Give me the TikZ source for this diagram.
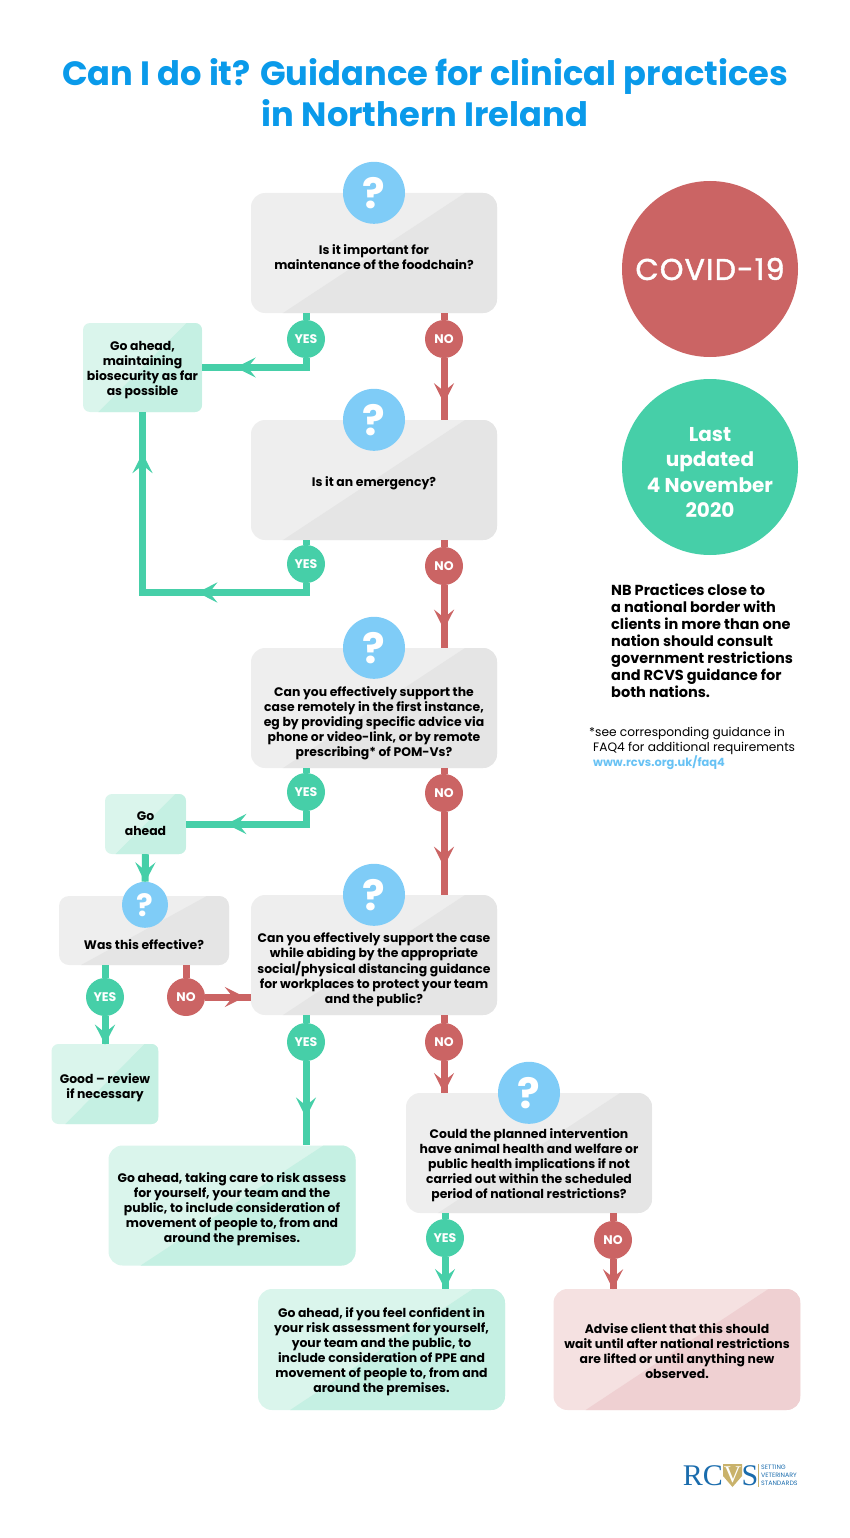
\documentclass[tikz,border=0pt]{standalone}
\usepackage{fontspec}
\setmainfont{Poppins}
\newfontfamily\logofont{Liberation Serif}
\newfontfamily\covidfont[LetterSpace=4,FakeBold=1.5]{Poppins}
\usetikzlibrary{arrows.meta, positioning, calc, decorations.markings}

\definecolor{titleblue}{HTML}{0A9AEA}
\definecolor{markblue}{HTML}{7FCCF7}
\definecolor{yesgreen}{HTML}{46CFA8}
\definecolor{nored}{HTML}{CB6464}
\definecolor{greyA}{HTML}{EEEEEE}
\definecolor{greyB}{HTML}{E5E5E5}
\definecolor{greenA}{HTML}{DAF5EC}
\definecolor{greenB}{HTML}{C5F0E3}
\definecolor{redA}{HTML}{F5E1E1}
\definecolor{redB}{HTML}{EFD0D2}
\definecolor{rcvsblue}{HTML}{1A6CAD}
\definecolor{rcvsgold}{HTML}{C9B26B}

\newcommand{\pushdown}[1]{\rule{0pt}{\dimexpr 9pt+2\dimexpr #1\relax\relax}}
\newcommand{\barbs}{\pgftransformxshift{5pt}\arrow{Stealth[length=20pt,width=20pt,inset=8pt]}}

\tikzstyle{bodytext} = [align=center, text=black, font=\bfseries\fontsize{12.4}{15}\selectfont]
\tikzstyle{panel} = [rectangle, inner sep=0pt, bodytext, path picture={
  \fill [fill=panelB, sharp corners] ($(path picture bounding box.south west)!0.13!(path picture bounding box.south east)$)
    -- ($(path picture bounding box.north east)!0.13!(path picture bounding box.north west)$)
    -- (path picture bounding box.north east) -- (path picture bounding box.south east) -- cycle;}]
\tikzstyle{question} = [panel, fill=greyA, rounded corners=14pt, minimum width=246pt, minimum height=120pt]
\tikzstyle{outcome} = [panel, fill=greenA, rounded corners=14pt, minimum width=247pt, minimum height=120pt]
\tikzstyle{stopbox} = [panel, fill=redA, rounded corners=14pt, minimum width=247pt, minimum height=121pt]
\tikzstyle{smallbox} = [panel, fill=greenA, rounded corners=7pt]
\tikzstyle{qmark} = [circle, fill=markblue, text=white, minimum size=62pt, inner sep=0pt, font=\bfseries\fontsize{42}{42}\selectfont]
\tikzstyle{yes} = [circle, fill=yesgreen, text=white, minimum size=38pt, inner sep=0pt, font=\bfseries\fontsize{12.5}{15}\selectfont]
\tikzstyle{no} = [yes, fill=nored]
\tikzstyle{bigdisc} = [circle, minimum size=176pt, inner sep=0pt, text=white]
\tikzstyle{yesline} = [line width=7pt, draw=yesgreen]
\tikzstyle{noline} = [line width=7pt, draw=nored]
\tikzstyle{tip} = [postaction={decorate, decoration={markings, mark=at position #1 with {\barbs}}}]
\tikzstyle{tiptwo} = [postaction={decorate, decoration={markings,
  mark=at position 0.32 with {\barbs},
  mark=at position 0.87 with {\barbs}}}]

\begin{document}
\begin{tikzpicture}[node distance=227pt]
\useasboundingbox (0pt,0pt) rectangle (850pt,-1538pt);

% Title
\node (title) [align=center, text=titleblue, font=\bfseries\fontsize{33.7}{41}\selectfont] at (425pt,-93pt) {Can I do it? Guidance for clinical practices\\in Northern Ireland};

% Questions
\colorlet{panelB}{greyB}
\node (q1) [question] at (374pt,-253pt) {\pushdown{5pt}Is it important for\\maintenance of the foodchain?};
\node (q2) [question, below of=q1] {\pushdown{4pt}Is it an emergency?};
\node (q3) [question, below of=q2, yshift=-1pt] {\pushdown{16pt}Can you effectively support the\\case remotely in the first instance,\\eg by providing specific advice via\\phone or video-link, or by remote\\prescribing* of POM-Vs?};
\node (q4) [question, below of=q3, yshift=-20pt] {\pushdown{15pt}Can you effectively support the case\\while abiding by the appropriate\\social/physical distancing guidance\\for workplaces to protect your team\\and the public?};
\node (q5) [question, below of=q4, xshift=155pt, yshift=29pt] {\pushdown{13pt}Could the planned intervention\\have animal health and welfare or\\public health implications if not\\carried out within the scheduled\\period of national restrictions?};
\node (effective) [question, minimum width=170pt, minimum height=69pt, rounded corners=10pt, left of=q4, xshift=-3pt, yshift=24.5pt] {\pushdown{15pt}Was this effective?};

% Outcomes
\colorlet{panelB}{greenB}
\node (ahead1) [smallbox, minimum width=119pt, minimum height=89pt, left of=q1, xshift=-4.5pt, yshift=-114.5pt] {\pushdown{3pt}Go ahead,\\maintaining\\biosecurity as far\\as possible};
\node (ahead2) [smallbox, minimum width=81pt, minimum height=60pt, left of=q3, xshift=-1.5pt, yshift=-116pt] {Go\\ahead};
\node (good) [smallbox, minimum width=107pt, minimum height=80pt, below of=effective, xshift=-39pt, yshift=73.5pt] {\pushdown{4pt}Good – review\\if necessary};
\node (ahead3) [outcome, rounded corners=14pt, below of=q4, xshift=-142pt, yshift=-23.5pt] {\pushdown{4pt}Go ahead, taking care to risk assess\\for yourself, your team and the\\public, to include consideration of\\movement of people to, from and\\around the premises.};
\node (ahead4) [outcome, minimum height=121pt, below of=q5, xshift=-147.5pt, yshift=30.5pt] {\pushdown{3pt}Go ahead, if you feel confident in\\your risk assessment for yourself,\\your team and the public, to\\include consideration of PPE and\\movement of people to, from and\\around the premises.};
\colorlet{panelB}{redB}
\node (advise) [stopbox, right of=ahead4, xshift=68.5pt] {\pushdown{2pt}Advise client that this should\\wait until after national restrictions\\are lifted or until anything new\\observed.};

% Question marks
\node (mark1) [qmark] at (q1.north) {?};
\node (mark2) [qmark] at (q2.north) {?};
\node (mark3) [qmark] at (q3.north) {?};
\node (mark4) [qmark] at (q4.north) {?};
\node (mark5) [qmark] at (q5.north) {?};
\node (mark6) [qmark, minimum size=46pt, font=\bfseries\fontsize{31}{31}\selectfont, yshift=-9pt, xshift=1pt] at (effective.north) {?};

% Yes and no
\node (yes1) [yes, below of=q1, xshift=-68pt, yshift=141pt] {YES};
\node (no1) [no, below of=q1, xshift=70pt, yshift=141pt] {NO};
\node (yes2) [yes, below of=q2, xshift=-68pt, yshift=143pt] {YES};
\node (no2) [no, below of=q2, xshift=70pt, yshift=141pt] {NO};
\node (yes3) [yes, below of=q3, xshift=-68pt, yshift=143pt] {YES};
\node (no3) [no, below of=q3, xshift=70pt, yshift=142pt] {NO};
\node (yes4) [yes, below of=q4, xshift=-68pt, yshift=140pt] {YES};
\node (no4) [no, below of=q4, xshift=70pt, yshift=140pt] {NO};
\node (yes5) [yes, below of=q5, xshift=-84pt, yshift=142pt] {YES};
\node (no5) [no, below of=q5, xshift=84pt, yshift=140pt] {NO};
\node (yes6) [yes, below of=effective, xshift=-39pt, yshift=160.5pt] {YES};
\node (no6) [no, below of=effective, xshift=42pt, yshift=160.5pt] {NO};

% Side panel
\node (covid) [bigdisc, fill=nored, font=\covidfont\fontsize{30}{36}\selectfont] at (710pt,-269pt) {COVID-19};
\node (updated) [bigdisc, fill=yesgreen, align=center, font=\bfseries\fontsize{20}{25.5}\selectfont, below of=covid, yshift=29pt] {\rule{0pt}{25pt}Last\\updated\\4 November\\2020};
\node (nb) [anchor=north west, inner sep=0pt, align=left, font=\bfseries\fontsize{14.5}{17}\selectfont] at (611pt,-584pt) {NB Practices close to\\a national border with\\clients in more than one\\nation should consult\\government restrictions\\and RCVS guidance for\\both nations.};
\node (see) [anchor=north west, inner sep=0pt, align=left, font=\fontsize{12.2}{15}\selectfont] at (589pt,-727pt) {*see corresponding guidance in\\\hspace*{4pt}FAQ4 for additional requirements\\\hspace*{4pt}\textcolor{markblue!80!titleblue}{\bfseries\fontsize{11.4}{15}\selectfont www.rcvs.org.uk/faq4}};

% Logo
\fill [rcvsgold] (723pt,-1464pt) -- (742pt,-1464pt) -- (742pt,-1476pt) -- (732.5pt,-1487pt) -- (723pt,-1476pt) -- cycle;
\node (logorc) [anchor=east, inner sep=0pt, text=rcvsblue, font=\logofont\fontsize{30}{30}\selectfont] at (723pt,-1476pt) {RC};
\node (logov) [inner sep=0pt, text=white, font=\logofont\fontsize{24}{24}\selectfont] at (732.5pt,-1475pt) {V};
\node (logos) [anchor=west, inner sep=0pt, text=rcvsblue, font=\logofont\fontsize{30}{30}\selectfont] at (741.5pt,-1476pt) {S};
\draw [rcvsgold, line width=0.6pt] (758.5pt,-1464pt) -- (758.5pt,-1487pt);
\node (strapline) [anchor=west, inner sep=0pt, align=left, text=rcvsblue, font=\fontsize{6.3}{8}\selectfont] at (761pt,-1475.5pt) {SETTING\\VETERINARY\\STANDARDS};

% Connections
\coordinate (bend2) at (ahead1.south |- 0,-592.5pt);
\draw [yesline] (yes1 |- q1.south) -- (yes1);
\draw [yesline, tip=0.66] (yes1.south) |- (ahead1.east);
\draw [yesline] (yes2 |- q2.south) -- (yes2);
\draw [yesline, tiptwo] (yes2.south) |- (bend2) -- (ahead1.south);
\draw [yesline] (yes3 |- q3.south) -- (yes3);
\draw [yesline, tip=0.66] (yes3.south) |- (ahead2.east);
\draw [yesline, tip=0.85] (ahead2.south) -- (mark6.north);
\draw [yesline] (yes6 |- effective.south) -- (yes6);
\draw [yesline, tip=0.85] (yes6.south) -- (good.north -| yes6);
\draw [yesline] (yes4 |- q4.south) -- (yes4);
\draw [yesline, tip=0.61] (yes4.south) -- (yes4 |- ahead3.north);
\draw [yesline] (yes5 |- q5.south) -- (yes5);
\draw [yesline, tip=0.85] (yes5.south) -- (yes5 |- ahead4.north);

\draw [noline] (no1 |- q1.south) -- (no1);
\draw [noline, tip=0.65] (no1.south) -- (no1 |- q2.north);
\draw [noline] (no2 |- q2.south) -- (no2);
\draw [noline, tip=0.63] (no2.south) -- (no2 |- q3.north);
\draw [noline] (no3 |- q3.south) -- (no3);
\draw [noline, tip=0.6] (no3.south) -- (no3 |- q4.north);
\draw [noline] (no6 |- effective.south) -- (no6);
\draw [noline, tip=0.76] (no6.east) -- (no6 -| q4.west);
\draw [noline] (no4 |- q4.south) -- (no4);
\draw [noline, tip=0.85] (no4.south) -- (no4 |- q5.north);
\draw [noline] (no5 |- q5.south) -- (no5);
\draw [noline, tip=0.85] (no5.south) -- (no5 |- advise.north);

\end{tikzpicture}
\end{document}
